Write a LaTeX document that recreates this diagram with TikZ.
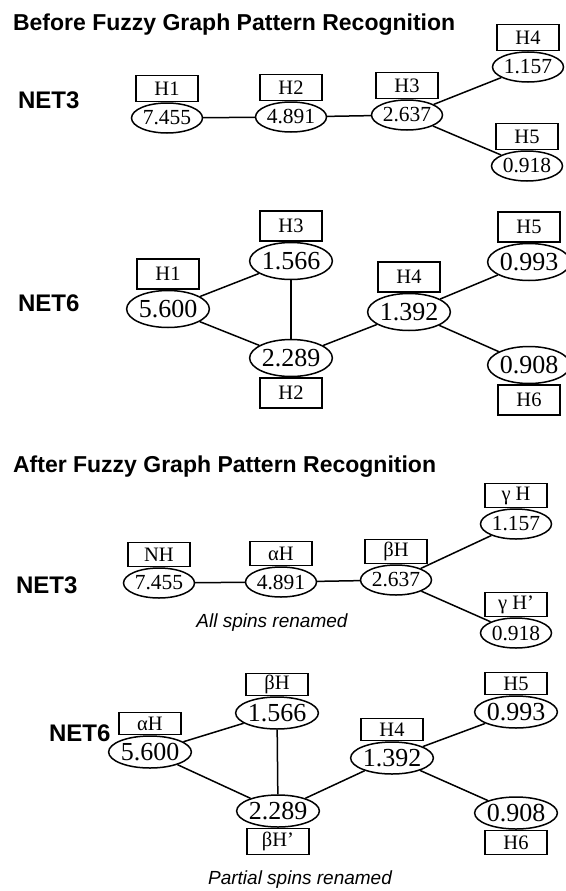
\documentclass[tikz,border=0pt]{standalone}
\usepackage{fontspec}
\setmainfont{Liberation Serif}
\setsansfont{Liberation Sans}
\usetikzlibrary{shapes.geometric,positioning}

\begin{document}
\begin{tikzpicture}
[x=1pt,y=-1pt,line width=1.5pt%
,peak/.style={ellipse,%
              draw,%
              inner sep=0pt,%
              minimum width=71pt,%
              minimum height=30pt,%
              font=\fontsize{21.5}{21.5}\selectfont}%
,big/.style={minimum width=74pt,%
             minimum height=37pt,%
             font=\fontsize{26}{26}\selectfont}%
,spin/.style={rectangle,%
              draw,%
              inner sep=0pt,%
              minimum width=62pt,%
              minimum height=26pt,%
              font=\fontsize{20.5}{20.5}\selectfont}%
,net/.style={anchor=west,font=\sffamily\bfseries\fontsize{24}{24}\selectfont}%
,head/.style={anchor=west,font=\sffamily\bfseries\fontsize{23}{23}\selectfont}%
,note/.style={font=\sffamily\itshape\fontsize{19}{19}\selectfont}]
\useasboundingbox (0,0) rectangle (565,891);

% before, NET3
\node[head] (before) at (9,25) {Before Fuzzy Graph Pattern Recognition};
\node[net] (netA) at (14,100) {NET3};
\node[peak] (a1) at (167,118) {7.455};
\node[peak] (a2) at (291,117) {4.891};
\node[peak] (a3) at (407,115) {2.637};
\node[peak] (a4) at (528,67) {1.157};
\node[peak] (a5) at (527,166) {0.918};
\node[spin,above=0pt of a1] (a1h) {H1};
\node[spin,above=0pt of a2] (a2h) {H2};
\node[spin,above=0pt of a3] (a3h) {H3};
\node[spin,above=0pt of a4] (a4h) {H4};
\node[spin,above=0pt of a5] (a5h) {H5};
\draw (a1) -- (a2) -- (a3);
\draw (a3) -- (a4);
\draw (a3) -- (a5);

% before, NET6
\node[net] (netB) at (14,303) {NET6};
\node[peak,big] (b1) at (168,309) {5.600};
\node[peak,big] (b2) at (291,261) {1.566};
\node[peak,big] (b3) at (291,358) {2.289};
\node[peak,big] (b4) at (409,312) {1.392};
\node[peak,big] (b5) at (529,262) {0.993};
\node[peak,big] (b6) at (529,365) {0.908};
\node[spin,minimum height=30pt,above=0pt of b1] (b1h) {H1};
\node[spin,minimum height=30pt,above=0pt of b2] (b2h) {H3};
\node[spin,minimum height=30pt,below=0pt of b3] (b3h) {H2};
\node[spin,minimum height=30pt,above=0pt of b4] (b4h) {H4};
\node[spin,minimum height=30pt,above=0pt of b5] (b5h) {H5};
\node[spin,minimum height=30pt,below=0pt of b6] (b6h) {H6};
\draw (b1) -- (b2);
\draw (b1) -- (b3);
\draw (b2) -- (b3);
\draw (b3) -- (b4);
\draw (b4) -- (b5);
\draw (b4) -- (b6);

% after, NET3
\node[head] (after) at (9,467) {After Fuzzy Graph Pattern Recognition};
\node[net] (netC) at (12,585) {NET3};
\node[peak] (c1) at (159,583) {7.455};
\node[peak] (c2) at (281,582) {4.891};
\node[peak] (c3) at (396,580) {2.637};
\node[peak] (c4) at (516,524) {1.157};
\node[peak] (c5) at (516,633) {0.918};
\node[spin,minimum height=24pt,above=0pt of c1] (c1h) {NH};
\node[spin,minimum height=24pt,above=0pt of c2] (c2h) {αH};
\node[spin,minimum height=24pt,above=0pt of c3] (c3h) {βH};
\node[spin,minimum height=24pt,above=0pt of c4] (c4h) {γ H};
\node[spin,minimum height=24pt,above=0pt of c5] (c5h) {γ H’};
\node[note] (allren) at (272,623) {All spins renamed};
\draw (c1) -- (c2) -- (c3);
\draw (c3) -- (c4);
\draw (c3) -- (c5);

% after, NET6
\node[net] (netD) at (45,733) {NET6};
\node[peak,big,minimum width=71pt,minimum height=32pt] (d1) at (150,752) {5.600};
\node[peak,big,minimum width=71pt,minimum height=32pt] (d2) at (277,713) {1.566};
\node[peak,big,minimum width=71pt,minimum height=32pt] (d3) at (278,811) {2.289};
\node[peak,big,minimum width=71pt,minimum height=32pt] (d4) at (392,758) {1.392};
\node[peak,big,minimum width=71pt,minimum height=32pt] (d5) at (516,712) {0.993};
\node[peak,big,minimum width=71pt,minimum height=32pt] (d6) at (516,813) {0.908};
\node[spin,minimum height=22pt,above=0pt of d1] (d1h) {αH};
\node[spin,minimum height=22pt,above=0pt of d2] (d2h) {βH};
\node[spin,minimum height=26pt,below=0pt of d3] (d3h) {βH’};
\node[spin,minimum height=22pt,above=0pt of d4] (d4h) {H4};
\node[spin,minimum height=22pt,above=0pt of d5] (d5h) {H5};
\node[spin,minimum height=24pt,below=0pt of d6] (d6h) {H6};
\node[note] (partren) at (300,880) {Partial spins renamed};
\draw (d1) -- (d2);
\draw (d1) -- (d3);
\draw (d2) -- (d3);
\draw (d3) -- (d4);
\draw (d4) -- (d5);
\draw (d4) -- (d6);
\end{tikzpicture}
\end{document}
